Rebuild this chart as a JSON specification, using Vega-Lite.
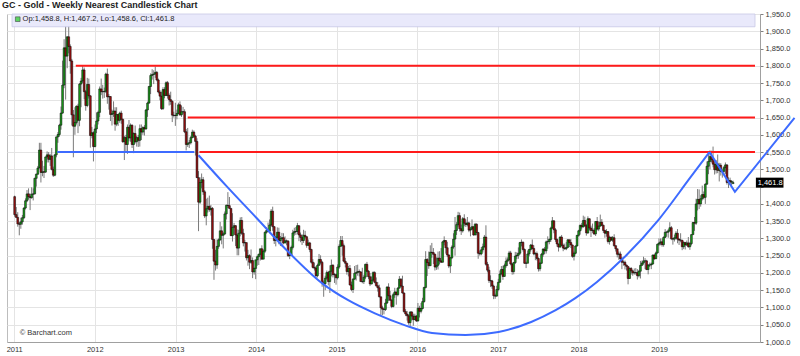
{
 "$schema": "https://vega.github.io/schema/vega-lite/v6.json",
 "width": 753,
 "height": 328,
 "autosize": {"type": "none"},
 "padding": {"left": 7, "top": 14, "right": 40, "bottom": 14},
 "background": "#ffffff",
 "config": {
  "font": "Liberation Sans",
  "view": {"stroke": "#bdbdbd", "strokeWidth": 1},
  "axis": {"labelFont": "Liberation Sans", "labelFontSize": 7.5, "labelColor": "#333333", "gridColor": "#e4e4e4", "gridWidth": 1, "domainColor": "#a0a0a0", "tickColor": "#808080"}
 },
 "title": {"text": "GC - Gold - Weekly Nearest Candlestick Chart", "anchor": "start", "frame": "group", "font": "Liberation Sans", "fontSize": 9, "fontWeight": "bold", "color": "#222222", "offset": 0, "dx": -5},
 "data": {"values": "d,o,h,l,c\n2011-01-03,1421,1424,1363,1369\n2011-01-10,1369,1391,1359,1361\n2011-01-17,1361,1376,1334,1342\n2011-01-24,1342,1348,1309,1341\n2011-01-31,1341,1360,1328,1348\n2011-02-07,1348,1368,1340,1360\n2011-02-14,1360,1390,1356,1388\n2011-02-21,1388,1416,1384,1409\n2011-02-28,1409,1440,1405,1429\n2011-03-07,1429,1445,1412,1421\n2011-03-14,1421,1430,1382,1418\n2011-03-21,1418,1448,1415,1428\n2011-03-28,1428,1445,1410,1429\n2011-04-04,1429,1476,1427,1474\n2011-04-11,1474,1488,1450,1486\n2011-04-18,1486,1510,1484,1504\n2011-04-25,1504,1577,1503,1556\n2011-05-02,1556,1577,1462,1491\n2011-05-09,1491,1525,1480,1493\n2011-05-16,1493,1510,1475,1492\n2011-05-23,1492,1537,1490,1536\n2011-05-30,1536,1552,1520,1542\n2011-06-06,1542,1550,1520,1529\n2011-06-13,1529,1545,1510,1539\n2011-06-20,1539,1562,1497,1500\n2011-06-27,1500,1508,1478,1483\n2011-07-04,1483,1545,1480,1542\n2011-07-11,1542,1595,1535,1594\n2011-07-18,1594,1608,1577,1601\n2011-07-25,1601,1632,1595,1628\n2011-08-01,1628,1682,1615,1663\n2011-08-08,1663,1815,1661,1744\n2011-08-15,1744,1877,1735,1852\n2011-08-22,1852,1917,1702,1828\n2011-08-29,1828,1885,1793,1884\n2011-09-05,1884,1923,1836,1856\n2011-09-12,1856,1862,1777,1814\n2011-09-19,1814,1820,1627,1658\n2011-09-26,1658,1672,1535,1625\n2011-10-03,1625,1680,1600,1636\n2011-10-10,1636,1685,1630,1683\n2011-10-17,1683,1690,1605,1642\n2011-10-24,1642,1750,1625,1747\n2011-10-31,1747,1765,1680,1756\n2011-11-07,1756,1802,1750,1788\n2011-11-14,1788,1795,1703,1725\n2011-11-21,1725,1730,1670,1685\n2011-11-28,1685,1765,1680,1746\n2011-12-05,1746,1763,1705,1713\n2011-12-12,1713,1715,1563,1598\n2011-12-19,1598,1623,1590,1606\n2011-12-26,1606,1610,1523,1566\n2012-01-02,1566,1630,1564,1617\n2012-01-09,1617,1665,1605,1640\n2012-01-16,1640,1670,1630,1665\n2012-01-23,1665,1740,1651,1733\n2012-01-30,1733,1763,1715,1725\n2012-02-06,1725,1745,1705,1725\n2012-02-13,1725,1737,1707,1726\n2012-02-20,1726,1780,1721,1776\n2012-02-27,1776,1792,1690,1710\n2012-03-05,1710,1718,1673,1711\n2012-03-12,1711,1712,1640,1659\n2012-03-19,1659,1673,1627,1662\n2012-03-26,1662,1697,1652,1669\n2012-04-02,1669,1680,1612,1631\n2012-04-09,1631,1680,1625,1659\n2012-04-16,1659,1660,1626,1642\n2012-04-23,1642,1667,1635,1663\n2012-04-30,1663,1670,1632,1645\n2012-05-07,1645,1647,1577,1580\n2012-05-14,1580,1597,1527,1592\n2012-05-21,1592,1600,1552,1572\n2012-05-28,1572,1630,1545,1622\n2012-06-04,1622,1643,1581,1591\n2012-06-11,1591,1633,1580,1628\n2012-06-18,1628,1630,1562,1572\n2012-06-25,1572,1607,1547,1604\n2012-07-02,1604,1627,1575,1580\n2012-07-09,1580,1597,1566,1592\n2012-07-16,1592,1600,1565,1584\n2012-07-23,1584,1630,1566,1618\n2012-07-30,1618,1630,1585,1608\n2012-08-06,1608,1625,1600,1621\n2012-08-13,1621,1628,1598,1617\n2012-08-20,1617,1675,1615,1672\n2012-08-27,1672,1696,1652,1692\n2012-09-03,1692,1742,1690,1740\n2012-09-10,1740,1778,1718,1772\n2012-09-17,1772,1790,1760,1775\n2012-09-24,1775,1787,1747,1776\n2012-10-01,1776,1798,1765,1781\n2012-10-08,1781,1785,1755,1759\n2012-10-15,1759,1763,1720,1724\n2012-10-22,1724,1730,1700,1712\n2012-10-29,1712,1725,1672,1676\n2012-11-05,1676,1738,1672,1731\n2012-11-12,1731,1738,1706,1714\n2012-11-19,1714,1755,1712,1751\n2012-11-26,1751,1756,1705,1714\n2012-12-03,1714,1720,1685,1702\n2012-12-10,1702,1725,1687,1697\n2012-12-17,1697,1700,1637,1657\n2012-12-24,1657,1667,1650,1656\n2012-12-31,1656,1693,1626,1656\n2013-01-07,1656,1673,1645,1662\n2013-01-14,1662,1693,1660,1687\n2013-01-21,1687,1697,1655,1658\n2013-01-28,1658,1685,1652,1667\n2013-02-04,1667,1681,1660,1667\n2013-02-11,1667,1674,1605,1609\n2013-02-18,1609,1617,1555,1572\n2013-02-25,1572,1620,1565,1576\n2013-03-04,1576,1585,1562,1577\n2013-03-11,1577,1597,1572,1592\n2013-03-18,1592,1615,1590,1608\n2013-03-25,1608,1613,1591,1596\n2013-04-01,1596,1600,1540,1581\n2013-04-08,1581,1590,1475,1476\n2013-04-15,1476,1495,1321,1405\n2013-04-22,1405,1477,1400,1462\n2013-04-29,1462,1488,1445,1470\n2013-05-06,1470,1478,1426,1435\n2013-05-13,1435,1440,1359,1365\n2013-05-20,1365,1415,1338,1386\n2013-05-27,1386,1418,1375,1393\n2013-06-03,1393,1424,1377,1383\n2013-06-10,1383,1397,1366,1387\n2013-06-17,1387,1391,1270,1297\n2013-06-24,1297,1297,1180,1234\n2013-07-01,1234,1267,1207,1223\n2013-07-08,1223,1297,1212,1277\n2013-07-15,1277,1300,1270,1296\n2013-07-22,1296,1348,1293,1322\n2013-07-29,1322,1335,1283,1309\n2013-08-05,1309,1318,1271,1313\n2013-08-12,1313,1378,1310,1371\n2013-08-19,1371,1398,1355,1396\n2013-08-26,1396,1434,1388,1395\n2013-09-02,1395,1420,1385,1387\n2013-09-09,1387,1388,1307,1308\n2013-09-16,1308,1373,1291,1332\n2013-09-23,1332,1345,1311,1337\n2013-09-30,1337,1338,1278,1310\n2013-10-07,1310,1326,1251,1272\n2013-10-14,1272,1325,1251,1315\n2013-10-21,1315,1361,1306,1352\n2013-10-28,1352,1362,1310,1315\n2013-11-04,1315,1328,1277,1287\n2013-11-11,1287,1296,1262,1288\n2013-11-18,1288,1288,1236,1244\n2013-11-25,1244,1267,1221,1250\n2013-12-02,1250,1254,1211,1231\n2013-12-09,1231,1268,1226,1236\n2013-12-16,1236,1245,1185,1203\n2013-12-23,1203,1216,1195,1213\n2013-12-30,1213,1238,1182,1238\n2014-01-06,1238,1250,1221,1247\n2014-01-13,1247,1256,1223,1254\n2014-01-20,1254,1270,1236,1270\n2014-01-27,1270,1280,1238,1240\n2014-02-03,1240,1268,1240,1263\n2014-02-10,1263,1320,1258,1318\n2014-02-17,1318,1332,1314,1323\n2014-02-24,1323,1346,1318,1321\n2014-03-03,1321,1355,1315,1339\n2014-03-10,1339,1385,1336,1379\n2014-03-17,1379,1392,1322,1334\n2014-03-24,1334,1336,1284,1294\n2014-03-31,1294,1307,1277,1303\n2014-04-07,1303,1332,1293,1318\n2014-04-14,1318,1331,1283,1294\n2014-04-21,1294,1307,1278,1300\n2014-04-28,1300,1316,1277,1302\n2014-05-05,1302,1315,1283,1287\n2014-05-12,1287,1306,1285,1293\n2014-05-19,1293,1297,1280,1292\n2014-05-26,1292,1295,1246,1250\n2014-06-02,1250,1258,1240,1252\n2014-06-09,1252,1279,1250,1274\n2014-06-16,1274,1325,1268,1316\n2014-06-23,1316,1331,1308,1320\n2014-06-30,1320,1333,1310,1320\n2014-07-07,1320,1345,1312,1337\n2014-07-14,1337,1337,1292,1310\n2014-07-21,1310,1317,1289,1303\n2014-07-28,1303,1312,1281,1294\n2014-08-04,1294,1325,1287,1309\n2014-08-11,1309,1322,1300,1305\n2014-08-18,1305,1306,1273,1280\n2014-08-25,1280,1297,1278,1287\n2014-09-01,1287,1290,1260,1268\n2014-09-08,1268,1270,1227,1231\n2014-09-15,1231,1240,1213,1216\n2014-09-22,1216,1230,1207,1214\n2014-09-29,1214,1220,1183,1192\n2014-10-06,1192,1227,1187,1222\n2014-10-13,1222,1255,1221,1239\n2014-10-20,1239,1251,1225,1231\n2014-10-27,1231,1235,1160,1171\n2014-11-03,1171,1178,1131,1169\n2014-11-10,1169,1192,1150,1185\n2014-11-17,1185,1207,1180,1201\n2014-11-24,1201,1206,1164,1175\n2014-12-01,1175,1222,1142,1205\n2014-12-08,1205,1239,1190,1222\n2014-12-15,1222,1226,1187,1195\n2014-12-22,1195,1200,1171,1195\n2014-12-29,1195,1198,1166,1186\n2015-01-05,1186,1225,1181,1217\n2015-01-12,1217,1283,1212,1277\n2015-01-19,1277,1307,1276,1294\n2015-01-26,1294,1307,1250,1279\n2015-02-02,1279,1285,1231,1234\n2015-02-09,1234,1244,1216,1228\n2015-02-16,1228,1230,1195,1204\n2015-02-23,1204,1220,1190,1213\n2015-03-02,1213,1223,1164,1165\n2015-03-09,1165,1175,1147,1152\n2015-03-16,1152,1185,1142,1182\n2015-03-23,1182,1220,1180,1199\n2015-03-30,1199,1223,1178,1201\n2015-04-06,1201,1224,1192,1204\n2015-04-13,1204,1210,1190,1203\n2015-04-20,1203,1205,1175,1175\n2015-04-27,1175,1215,1170,1175\n2015-05-04,1175,1195,1168,1188\n2015-05-11,1188,1227,1182,1225\n2015-05-18,1225,1232,1202,1205\n2015-05-25,1205,1208,1182,1189\n2015-06-01,1189,1200,1162,1168\n2015-06-08,1168,1190,1167,1179\n2015-06-15,1179,1205,1175,1201\n2015-06-22,1201,1205,1170,1173\n2015-06-29,1173,1187,1160,1163\n2015-07-06,1163,1174,1146,1157\n2015-07-13,1157,1166,1129,1131\n2015-07-20,1131,1131,1077,1099\n2015-07-27,1099,1105,1078,1095\n2015-08-03,1095,1097,1080,1094\n2015-08-10,1094,1125,1090,1113\n2015-08-17,1113,1162,1110,1159\n2015-08-24,1159,1170,1119,1134\n2015-08-31,1134,1148,1119,1121\n2015-09-07,1121,1124,1098,1103\n2015-09-14,1103,1142,1100,1137\n2015-09-21,1137,1157,1128,1145\n2015-09-28,1145,1145,1108,1137\n2015-10-05,1137,1159,1132,1156\n2015-10-12,1156,1191,1155,1182\n2015-10-19,1182,1185,1159,1162\n2015-10-26,1162,1192,1140,1142\n2015-11-02,1142,1143,1085,1088\n2015-11-09,1088,1095,1075,1081\n2015-11-16,1081,1090,1062,1076\n2015-11-23,1076,1080,1050,1056\n2015-11-30,1056,1089,1046,1087\n2015-12-07,1087,1089,1062,1075\n2015-12-14,1075,1082,1047,1065\n2015-12-21,1065,1082,1063,1075\n2015-12-28,1075,1078,1058,1061\n2016-01-04,1061,1113,1059,1098\n2016-01-11,1098,1105,1071,1089\n2016-01-18,1089,1113,1083,1097\n2016-01-25,1097,1128,1094,1117\n2016-02-01,1117,1160,1114,1158\n2016-02-08,1158,1263,1155,1239\n2016-02-15,1239,1243,1191,1230\n2016-02-22,1230,1262,1212,1221\n2016-02-29,1221,1280,1220,1260\n2016-03-07,1260,1287,1244,1259\n2016-03-14,1259,1272,1226,1254\n2016-03-21,1254,1256,1207,1217\n2016-03-28,1217,1245,1209,1222\n2016-04-04,1222,1262,1210,1243\n2016-04-11,1243,1263,1225,1235\n2016-04-18,1235,1272,1229,1231\n2016-04-25,1231,1293,1230,1290\n2016-05-02,1290,1306,1280,1294\n2016-05-09,1294,1294,1256,1273\n2016-05-16,1273,1290,1246,1252\n2016-05-23,1252,1254,1214,1220\n2016-05-30,1220,1246,1200,1244\n2016-06-06,1244,1280,1240,1275\n2016-06-13,1275,1315,1270,1298\n2016-06-20,1298,1362,1250,1323\n2016-06-27,1323,1347,1310,1340\n2016-07-04,1340,1377,1334,1366\n2016-07-11,1366,1375,1320,1328\n2016-07-18,1328,1340,1310,1322\n2016-07-25,1322,1362,1317,1357\n2016-08-01,1357,1370,1335,1344\n2016-08-08,1344,1355,1333,1340\n2016-08-15,1340,1362,1335,1345\n2016-08-22,1345,1348,1318,1324\n2016-08-29,1324,1333,1306,1327\n2016-09-05,1327,1355,1324,1334\n2016-09-12,1334,1334,1308,1310\n2016-09-19,1310,1345,1309,1341\n2016-09-26,1341,1344,1309,1317\n2016-10-03,1317,1319,1241,1257\n2016-10-10,1257,1265,1250,1255\n2016-10-17,1255,1275,1251,1267\n2016-10-24,1267,1285,1259,1276\n2016-10-31,1276,1310,1273,1304\n2016-11-07,1304,1338,1221,1225\n2016-11-14,1225,1232,1202,1208\n2016-11-21,1208,1218,1171,1178\n2016-11-28,1178,1193,1159,1177\n2016-12-05,1177,1180,1154,1162\n2016-12-12,1162,1166,1124,1134\n2016-12-19,1134,1140,1125,1133\n2016-12-26,1133,1163,1131,1152\n2017-01-02,1152,1183,1147,1173\n2017-01-09,1173,1207,1172,1197\n2017-01-16,1197,1220,1195,1210\n2017-01-23,1210,1221,1180,1190\n2017-01-30,1190,1227,1189,1221\n2017-02-06,1221,1245,1215,1234\n2017-02-13,1234,1245,1220,1238\n2017-02-20,1238,1264,1236,1258\n2017-02-27,1258,1264,1222,1226\n2017-03-06,1226,1229,1195,1204\n2017-03-13,1204,1232,1196,1230\n2017-03-20,1230,1261,1226,1249\n2017-03-27,1249,1260,1240,1251\n2017-04-03,1251,1274,1241,1257\n2017-04-10,1257,1290,1252,1288\n2017-04-17,1288,1297,1277,1289\n2017-04-24,1289,1291,1262,1268\n2017-05-01,1268,1271,1226,1228\n2017-05-08,1228,1233,1214,1228\n2017-05-15,1228,1265,1228,1255\n2017-05-22,1255,1270,1248,1268\n2017-05-29,1268,1284,1262,1281\n2017-06-05,1281,1297,1268,1271\n2017-06-12,1271,1280,1251,1255\n2017-06-19,1255,1260,1237,1256\n2017-06-26,1256,1262,1236,1242\n2017-07-03,1242,1245,1204,1212\n2017-07-10,1212,1232,1205,1228\n2017-07-17,1228,1258,1226,1254\n2017-07-24,1254,1272,1247,1269\n2017-07-31,1269,1275,1254,1264\n2017-08-07,1264,1294,1256,1290\n2017-08-14,1290,1306,1270,1291\n2017-08-21,1291,1300,1283,1297\n2017-08-28,1297,1334,1290,1330\n2017-09-04,1330,1362,1328,1351\n2017-09-11,1351,1352,1315,1325\n2017-09-18,1325,1330,1290,1297\n2017-09-25,1297,1300,1276,1284\n2017-10-02,1284,1285,1262,1275\n2017-10-09,1275,1306,1273,1304\n2017-10-16,1304,1310,1277,1280\n2017-10-23,1280,1285,1263,1272\n2017-10-30,1272,1285,1267,1270\n2017-11-06,1270,1290,1266,1274\n2017-11-13,1274,1298,1272,1296\n2017-11-20,1296,1297,1275,1288\n2017-11-27,1288,1298,1272,1281\n2017-12-04,1281,1282,1244,1248\n2017-12-11,1248,1262,1236,1257\n2017-12-18,1257,1280,1254,1278\n2017-12-25,1278,1310,1277,1309\n2018-01-01,1309,1325,1305,1322\n2018-01-08,1322,1340,1311,1338\n2018-01-15,1338,1345,1326,1333\n2018-01-22,1333,1366,1332,1352\n2018-01-29,1352,1363,1334,1337\n2018-02-05,1337,1342,1308,1316\n2018-02-12,1316,1364,1313,1357\n2018-02-19,1357,1358,1323,1330\n2018-02-26,1330,1337,1304,1323\n2018-03-05,1323,1343,1316,1324\n2018-03-12,1324,1330,1310,1313\n2018-03-19,1313,1350,1307,1349\n2018-03-26,1349,1362,1323,1327\n2018-04-02,1327,1349,1321,1336\n2018-04-09,1336,1369,1333,1347\n2018-04-16,1347,1356,1335,1338\n2018-04-23,1338,1340,1316,1323\n2018-04-30,1323,1325,1302,1315\n2018-05-07,1315,1327,1305,1320\n2018-05-14,1320,1320,1285,1291\n2018-05-21,1291,1308,1282,1303\n2018-05-28,1303,1306,1293,1295\n2018-06-04,1295,1307,1290,1302\n2018-06-11,1302,1312,1276,1279\n2018-06-18,1279,1280,1262,1270\n2018-06-25,1270,1270,1245,1254\n2018-07-02,1254,1262,1238,1255\n2018-07-09,1255,1262,1239,1241\n2018-07-16,1241,1246,1211,1231\n2018-07-23,1231,1236,1221,1231\n2018-07-30,1231,1236,1210,1223\n2018-08-06,1223,1224,1207,1219\n2018-08-13,1219,1219,1167,1184\n2018-08-20,1184,1216,1183,1213\n2018-08-27,1213,1217,1195,1206\n2018-09-03,1206,1209,1192,1200\n2018-09-10,1200,1213,1195,1201\n2018-09-17,1201,1214,1195,1201\n2018-09-24,1201,1211,1181,1192\n2018-10-01,1192,1209,1187,1205\n2018-10-08,1205,1235,1184,1222\n2018-10-15,1222,1236,1221,1229\n2018-10-22,1229,1247,1224,1235\n2018-10-29,1235,1243,1211,1235\n2018-11-05,1235,1238,1208,1210\n2018-11-12,1210,1226,1196,1223\n2018-11-19,1223,1230,1217,1223\n2018-11-26,1223,1230,1211,1226\n2018-12-03,1226,1253,1224,1252\n2018-12-10,1252,1254,1238,1241\n2018-12-17,1241,1262,1241,1258\n2018-12-24,1258,1285,1256,1283\n2018-12-31,1283,1300,1278,1287\n2019-01-07,1287,1300,1280,1290\n2019-01-14,1290,1300,1276,1282\n2019-01-21,1282,1306,1276,1303\n2019-01-28,1303,1327,1301,1318\n2019-02-04,1318,1322,1305,1318\n2019-02-11,1318,1327,1302,1322\n2019-02-18,1322,1347,1320,1331\n2019-02-25,1331,1336,1295,1299\n2019-03-04,1299,1301,1282,1298\n2019-03-11,1298,1311,1291,1302\n2019-03-18,1302,1321,1297,1315\n2019-03-25,1315,1327,1286,1298\n2019-04-01,1298,1300,1281,1295\n2019-04-08,1295,1315,1289,1295\n2019-04-15,1295,1295,1266,1276\n2019-04-22,1276,1292,1269,1288\n2019-04-29,1288,1290,1268,1281\n2019-05-06,1281,1294,1278,1287\n2019-05-13,1287,1304,1273,1276\n2019-05-20,1276,1290,1267,1285\n2019-05-27,1285,1312,1280,1311\n2019-06-03,1311,1348,1310,1346\n2019-06-10,1346,1362,1322,1344\n2019-06-17,1344,1415,1339,1400\n2019-06-24,1400,1443,1381,1413\n2019-07-01,1413,1442,1385,1400\n2019-07-08,1400,1425,1392,1415\n2019-07-15,1415,1453,1410,1427\n2019-07-22,1427,1436,1413,1419\n2019-07-29,1419,1460,1400,1457\n2019-08-05,1457,1523,1455,1509\n2019-08-12,1509,1546,1486,1523\n2019-08-19,1523,1555,1500,1537\n2019-08-26,1537,1554,1520,1529\n2019-09-02,1529,1566,1506,1515\n2019-09-09,1515,1524,1485,1499\n2019-09-16,1499,1527,1488,1516\n2019-09-23,1516,1543,1489,1497\n2019-09-30,1497,1519,1465,1512\n2019-10-07,1512,1518,1482,1494\n2019-10-14,1494,1500,1476,1494\n2019-10-21,1494,1510,1484,1505\n2019-10-28,1505,1520,1487,1513\n2019-11-04,1513,1515,1456,1462\n2019-11-11,1462,1477,1446,1468\n2019-11-18,1468,1476,1455,1463\n2019-11-25,1463,1469,1454,1465\n2019-12-02,1458.8,1467.2,1458.6,1461.8", "format": {"type": "csv", "parse": {"d": "date", "o": "number", "h": "number", "l": "number", "c": "number"}}},
 "layer": [
  {
   "mark": {"type": "rule", "color": "#7a7a7a", "strokeWidth": 1},
   "encoding": {
    "x": {"field": "d", "type": "temporal", "title": null,
     "scale": {"type": "utc", "domain": [{"year": 2010, "month": 12, "date": 22, "utc": true}, {"year": 2020, "month": 3, "date": 10, "utc": true}]},
     "axis": {"format": "%Y", "values": [{"year": 2011, "utc": true}, {"year": 2012, "utc": true}, {"year": 2013, "utc": true}, {"year": 2014, "utc": true}, {"year": 2015, "utc": true}, {"year": 2016, "utc": true}, {"year": 2017, "utc": true}, {"year": 2018, "utc": true}, {"year": 2019, "utc": true}], "tickCount": 30, "grid": true, "ticks": false, "labelPadding": 3, "title": null, "labelFlush": false, "labelOverlap": false}},
    "y": {"field": "l", "type": "quantitative", "title": null,
     "scale": {"domain": [1000, 1950], "nice": false, "zero": false},
     "axis": {"orient": "right", "values": [1000, 1050, 1100, 1150, 1200, 1250, 1300, 1350, 1400, 1450, 1500, 1550, 1600, 1650, 1700, 1750, 1800, 1850, 1900, 1950], "tickCount": 40, "format": ",.1f", "labelExpr": "datum.value == 1450 ? '' : datum.label", "grid": true, "tickSize": 3, "labelPadding": 2, "title": null, "labelFlush": false, "labelOverlap": false}},
    "y2": {"field": "h"}
   }
  },
  {
   "mark": {"type": "bar", "size": 1.8, "stroke": "#000000", "strokeWidth": 0.5},
   "encoding": {
    "x": {"field": "d", "type": "temporal", "title": null},
    "y": {"field": "o", "type": "quantitative", "title": null, "axis": {"orient": "right"}},
    "y2": {"field": "c"},
    "fill": {"condition": {"test": "datum.c >= datum.o", "value": "#1aa01a"}, "value": "#9a1010"}
   }
  },
  {
   "data": {"values": [{"s": "2011-07-15", "e": "2013-03-27", "p": 1550}], "format": {"parse": {"s": "date", "e": "date"}}},
   "mark": {"type": "rule", "color": "#3d6bff", "strokeWidth": 2},
   "encoding": {"x": {"field": "s", "type": "temporal", "title": null}, "x2": {"field": "e"}, "y": {"field": "p", "type": "quantitative", "title": null, "axis": {"orient": "right"}}}
  },
  {
   "data": {"values": [{"s": "2011-10-07", "e": "2020-03-10", "p": 1800}, {"s": "2013-02-25", "e": "2020-03-10", "p": 1650}, {"s": "2013-04-19", "e": "2020-03-10", "p": 1550}], "format": {"parse": {"s": "date", "e": "date"}}},
   "mark": {"type": "rule", "color": "#ff1a1a", "strokeWidth": 2},
   "encoding": {"x": {"field": "s", "type": "temporal", "title": null}, "x2": {"field": "e"}, "y": {"field": "p", "type": "quantitative", "title": null, "axis": {"orient": "right"}}}
  },
  {
   "data": {"values": [
    {"t": "2013-04-15", "p": 1541}, {"t": "2013-08-22", "p": 1450}, {"t": "2014-01-03", "p": 1359}, {"t": "2014-05-16", "p": 1268},
    {"t": "2014-10-29", "p": 1169}, {"t": "2015-02-22", "p": 1121}, {"t": "2015-06-23", "p": 1083}, {"t": "2015-11-04", "p": 1049},
    {"t": "2016-03-08", "p": 1026}, {"t": "2016-08-07", "p": 1020}, {"t": "2017-01-03", "p": 1029}, {"t": "2017-05-31", "p": 1058},
    {"t": "2017-09-19", "p": 1092}, {"t": "2017-12-17", "p": 1127}, {"t": "2018-03-25", "p": 1174}, {"t": "2018-07-28", "p": 1246},
    {"t": "2018-12-28", "p": 1353}, {"t": "2019-05-24", "p": 1478}, {"t": "2019-08-17", "p": 1550}
   ], "format": {"parse": {"t": "date"}}},
   "mark": {"type": "line", "color": "#3d6bff", "strokeWidth": 2, "interpolate": "monotone", "clip": false},
   "encoding": {"x": {"field": "t", "type": "temporal", "title": null}, "y": {"field": "p", "type": "quantitative", "title": null, "axis": {"orient": "right"}}}
  },
  {
   "data": {"values": [{"t": "2019-08-17", "p": 1550}, {"t": "2019-12-10", "p": 1435}, {"t": "2020-09-05", "p": 1649}], "format": {"parse": {"t": "date"}}},
   "mark": {"type": "line", "color": "#3d6bff", "strokeWidth": 2, "clip": false},
   "encoding": {"x": {"field": "t", "type": "temporal", "title": null}, "y": {"field": "p", "type": "quantitative", "title": null, "axis": {"orient": "right"}}}
  },
  {
   "data": {"values": [{}]},
   "mark": {"type": "rect", "color": "#e9e9fb", "stroke": "#c8c8e6", "strokeWidth": 0.8},
   "encoding": {
    "x": {"datum": {"year": 2010, "month": 12, "date": 22, "utc": true}, "type": "temporal"},
    "x2": {"datum": {"year": 2020, "month": 3, "date": 10, "utc": true}},
    "y": {"datum": 1950, "type": "quantitative", "axis": {"orient": "right"}},
    "y2": {"datum": 1913}
   }
  },
  {
   "data": {"values": [{}]},
   "mark": {"type": "point", "shape": "square", "size": 22, "filled": true, "color": "#22cc22", "stroke": "#000000", "strokeWidth": 0.6},
   "encoding": {
    "x": {"datum": {"year": 2011, "month": 1, "date": 17, "utc": true}, "type": "temporal"},
    "y": {"datum": 1935, "type": "quantitative", "axis": {"orient": "right"}}
   }
  },
  {
   "data": {"values": [{}]},
   "mark": {"type": "text", "align": "left", "baseline": "middle", "fontSize": 7.5, "font": "Liberation Sans", "color": "#222222", "text": "Op:1,458.8, H:1,467.2, Lo:1,458.6, Cl:1,461.8"},
   "encoding": {
    "x": {"datum": {"year": 2011, "month": 2, "date": 8, "utc": true}, "type": "temporal"},
    "y": {"datum": 1935, "type": "quantitative", "axis": {"orient": "right"}}
   }
  },
  {
   "data": {"values": [{}]},
   "mark": {"type": "text", "align": "left", "baseline": "middle", "fontSize": 7.5, "font": "Liberation Sans", "color": "#333333", "text": "© Barchart.com"},
   "encoding": {
    "x": {"datum": {"year": 2011, "month": 1, "date": 26, "utc": true}, "type": "temporal"},
    "y": {"datum": 1025, "type": "quantitative", "axis": {"orient": "right"}}
   }
  },
  {
   "data": {"values": [{}]},
   "mark": {"type": "rect", "color": "#000000", "clip": false},
   "encoding": {
    "x": {"datum": {"year": 2020, "month": 3, "date": 14, "utc": true}, "type": "temporal"},
    "x2": {"datum": {"year": 2020, "month": 7, "date": 17, "utc": true}},
    "y": {"datum": 1447, "type": "quantitative", "axis": {"orient": "right"}},
    "y2": {"datum": 1476}
   }
  },
  {
   "data": {"values": [{}]},
   "mark": {"type": "text", "align": "left", "baseline": "middle", "fontSize": 7.5, "font": "Liberation Sans", "color": "#ffffff", "text": "1,461.8", "clip": false},
   "encoding": {
    "x": {"datum": {"year": 2020, "month": 3, "date": 22, "utc": true}, "type": "temporal"},
    "y": {"datum": 1461.8, "type": "quantitative", "axis": {"orient": "right"}}
   }
  }
 ]
}
